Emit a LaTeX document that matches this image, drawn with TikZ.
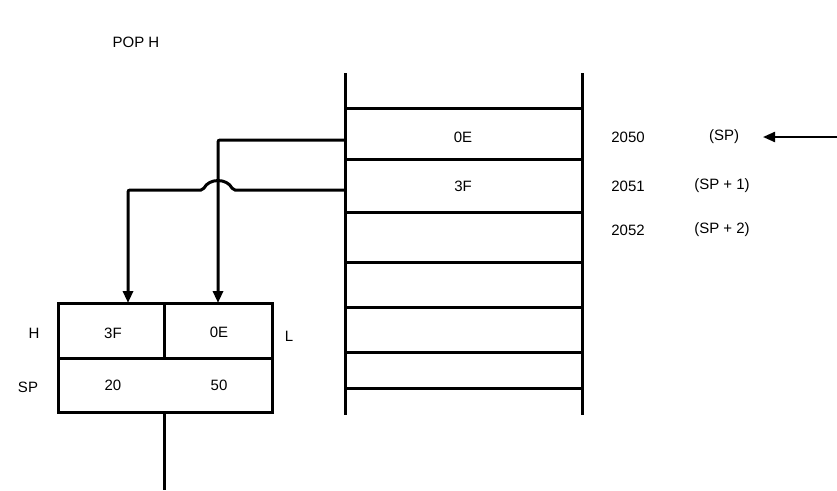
\documentclass[tikz,border=0pt]{standalone}
\usepackage{fontspec}
\setmainfont{Liberation Sans}
\usetikzlibrary{arrows.meta}
\begin{document}
\begin{tikzpicture}[x=1pt, y=-1pt, line width=3pt, >={Triangle[length=12pt,width=10pt]},
    font=\fontsize{15}{17}\selectfont]
  \useasboundingbox (0,0) rectangle (837,490);
  \node (title) at (136,42) {POP H};

  % memory stack
  \draw (345,73) -- (345,415);
  \draw (582,73) -- (582,415);
  \foreach \y in {108,159,212,262,307,352,388}
    \draw (345,\y) -- (582,\y);
  \node (m0) at (463,137) {0E};
  \node (m1) at (463,186) {3F};

  \node (a0) at (628,137) {2050};
  \node (a1) at (628,186) {2051};
  \node (a2) at (628,230) {2052};
  \node (p0) at (724,137) {(SP)};
  \node (p1) at (722,186) {(SP + 1)};
  \node (p2) at (722,230) {(SP + 2)};
  \coordinate (spin) at (837,137);
  \coordinate (spout) at (763,137);
  \draw[->, line width=2.2pt] (spin) -- (spout);

  % registers
  \draw (58,303) rectangle (272,412);
  \draw (58,358) -- (272,358);
  \draw (164,303) -- (164,358);
  \draw (164,412) -- (164,490);
  \node (h) at (113,333) {3F};
  \node (l) at (219,332) {0E};
  \node (sph) at (113,385) {20};
  \node (spl) at (219,385) {50};
  \node (hname) at (34,333) {H};
  \node (lname) at (289,336) {L};
  \node (spname) at (28,387) {SP};

  % transfers
  \coordinate (r0) at (345,140);
  \coordinate (r1) at (345,190);
  \coordinate (hin) at (128,303);
  \coordinate (lin) at (218,303);
  \draw[->, rounded corners=2pt] (r0) -- (r0 -| lin) -- (lin);
  \draw[->, rounded corners=2pt] (r1) -- (233,190)
    .. controls (227,178) and (209,178) .. (203,190) -- (r1 -| hin) -- (hin);
\end{tikzpicture}
\end{document}
